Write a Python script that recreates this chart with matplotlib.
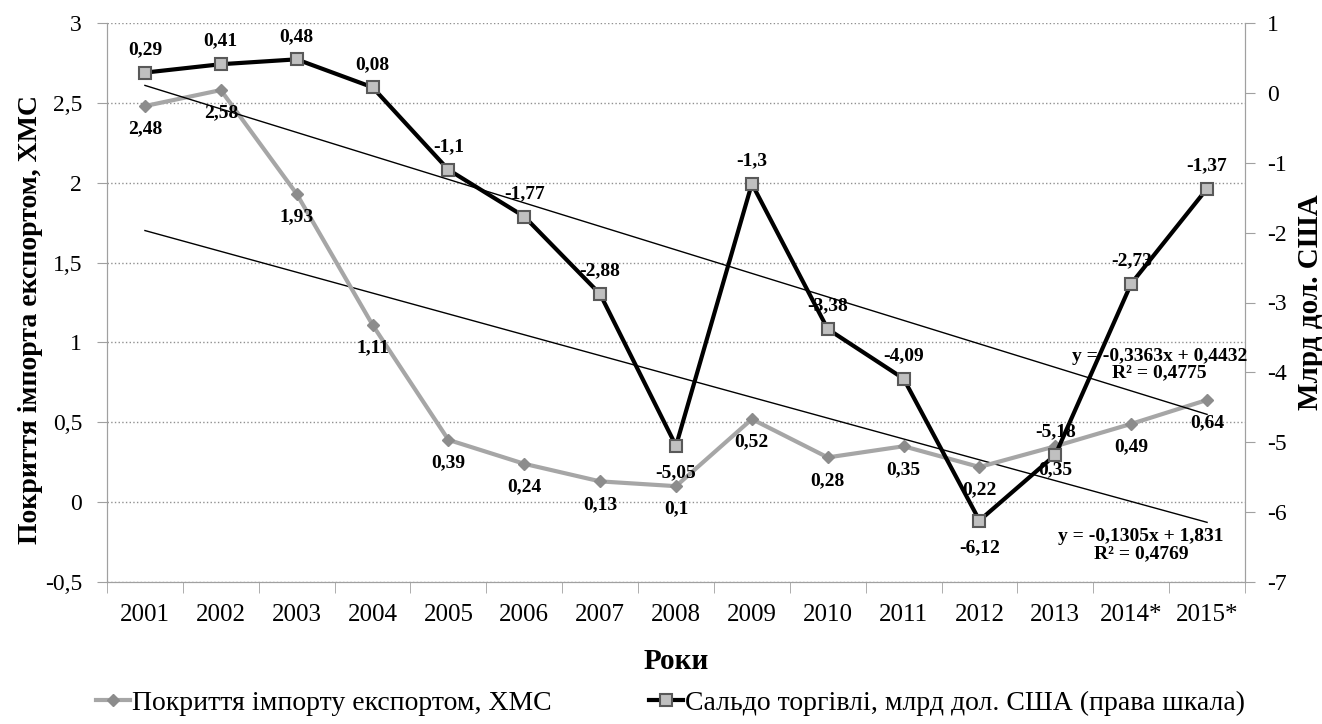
import numpy as np
import matplotlib.pyplot as plt

plt.rcParams['font.family'] = ['Liberation Serif', 'DejaVu Serif']
plt.rcParams['axes.unicode_minus'] = False

# Дані
years = ['2001', '2002', '2003', '2004', '2005', '2006', '2007', '2008',
         '2009', '2010', '2011', '2012', '2013', '2014*', '2015*']
coverage = [2.48, 2.58, 1.93, 1.11, 0.39, 0.24, 0.13, 0.1,
            0.52, 0.28, 0.35, 0.22, 0.35, 0.49, 0.64]
balance = [0.29, 0.41, 0.48, 0.08, -1.1, -1.77, -2.88, -5.05,
           -1.3, -3.38, -4.09, -6.12, -5.18, -2.73, -1.37]

# Лінійні тренди (коефіцієнти з підписів на графіку)
cov_trend = (-0.1305, 1.831, 0.4769)
bal_trend = (-0.3363, 0.4432, 0.4775)

def fmt(v):
    return str(v).replace('.', ',')

x = np.arange(1, len(years) + 1)

fig = plt.figure(figsize=(13.22, 7.24), dpi=100)
ax = fig.add_axes([107 / 1322, 1 - 582 / 724, 1138 / 1322, 559 / 724])
ax2 = ax.twinx()

# Покриття імпорту експортом (ліва шкала)
ax.plot(x, coverage, color='#a6a6a6', lw=3, marker='D', ms=6,
        mfc='#8c8c8c', mec='#8c8c8c', label='Покриття імпорту експортом, ХМС', zorder=3)
ax.plot(x, cov_trend[0] * x + cov_trend[1], color='black', lw=1, zorder=2)
for xi, v in zip(x, coverage):
    ax.annotate(fmt(v), (xi, v), xytext=(0, -23), textcoords='offset pixels',
                ha='center', va='center', fontsize=14, fontweight='bold')

# Сальдо торгівлі (права шкала)
ax2.plot(x, balance, color='black', lw=3, marker='s', ms=9,
         mfc='#c0c0c0', mec='#595959', mew=1.5,
         label='Сальдо торгівлі, млрд дол. США (права шкала)', zorder=3)
ax2.plot(x, bal_trend[0] * x + bal_trend[1], color='black', lw=1, zorder=2)
for xi, v in zip(x, balance):
    dy = -27 if v in (-5.05, -6.12) else 23
    ax2.annotate(fmt(v), (xi, v), xytext=(0, dy), textcoords='offset pixels',
                 ha='center', va='center', fontsize=14, fontweight='bold')

# Рівняння трендів
ax2.text(14.37, -3.89, 'y = %sx + %s\nR² = %s' % (fmt(bal_trend[0]), fmt(bal_trend[1]), fmt(bal_trend[2])),
         ha='center', va='center', fontsize=14, fontweight='bold', linespacing=1.0)
ax.text(14.13, -0.27, 'y = %sx + %s\nR² = %s' % (fmt(cov_trend[0]), fmt(cov_trend[1]), fmt(cov_trend[2])),
        ha='center', va='center', fontsize=14, fontweight='bold', linespacing=1.0)

# Осі
ax.set_xlim(0.5, len(years) + 0.5)
ax.set_ylim(-0.5, 3)
ax2.set_ylim(-7, 1)
yt = np.arange(-0.5, 3.01, 0.5)
ax.set_yticks(yt)
ax.set_yticklabels([fmt(t) if t != int(t) else str(int(t)) for t in yt])
ax2.set_yticks(np.arange(-7, 1.01, 1))
ax.set_xticks(x)
ax.set_xticklabels(years)
ax.set_xticks(np.arange(0.5, len(years) + 1, 1), minor=True)
ax.tick_params(axis='x', which='major', length=0, labelsize=18, pad=16)
ax.tick_params(axis='x', which='minor', length=8, color='#a0a0a0')
ax.tick_params(axis='y', length=7, color='#a0a0a0', labelsize=17, pad=11)
ax2.tick_params(axis='y', length=7, color='#a0a0a0', labelsize=17, pad=9)

ax.yaxis.grid(True, linestyle=':', color='#909090', lw=1)
ax.set_axisbelow(True)
for a in (ax, ax2):
    a.spines['top'].set_visible(False)
    for s in ('left', 'right', 'bottom'):
        a.spines[s].set_color('#a0a0a0')

ax.set_ylabel('Покриття імпорта експортом, ХМС', fontsize=20, fontweight='bold')
ax.yaxis.set_label_coords(-0.056, 0.469)
ax2.set_ylabel('Млрд дол. США', fontsize=21, fontweight='bold')
ax2.yaxis.set_label_coords(1.0457, 0.5)
ax.set_xlabel('Роки', fontsize=21, fontweight='bold', labelpad=16)

h1, l1 = ax.get_legend_handles_labels()
h2, l2 = ax2.get_legend_handles_labels()
fig.legend(h1 + h2, l1 + l2, loc='center', bbox_to_anchor=(0.507, 1 - 703 / 724),
           ncol=2, frameon=False, fontsize=20, columnspacing=3.5, handlelength=1.25,
           handletextpad=0.05)

fig.savefig('out.png', dpi=100)
